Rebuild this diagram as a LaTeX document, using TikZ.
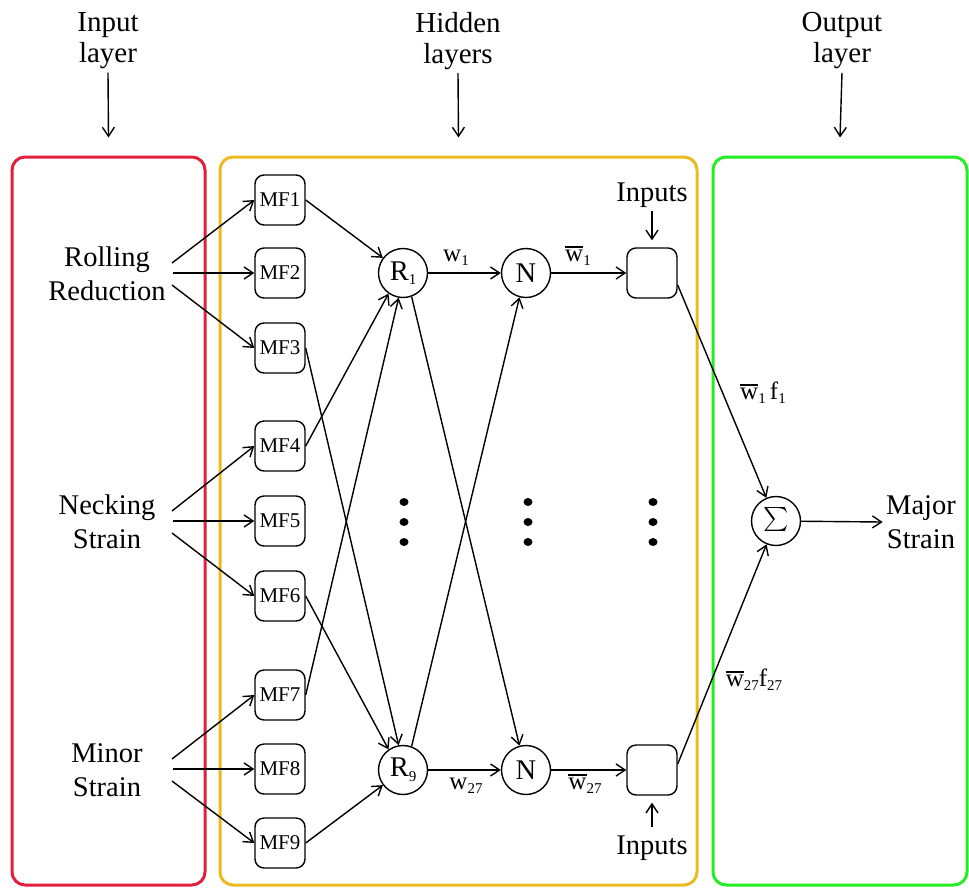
\documentclass[tikz,border=0pt]{standalone}
\usepackage{fontspec}
\setmainfont{Liberation Serif}
\usetikzlibrary{arrows.meta,calc}
\definecolor{cred}{HTML}{E0203C}
\definecolor{cyel}{HTML}{EBBA1E}
\definecolor{cgrn}{HTML}{22EE22}
\newcommand\sbs[1]{\raisebox{-0.35ex}{\fontsize{15}{15}\selectfont #1}}
\newcommand\wbar{\leavevmode\vbox{\hrule height 1.5pt\kern 2.5pt\hbox{w}}}
\begin{document}
\begin{tikzpicture}[x=1pt,y=-1pt,
  every node/.style={font=\fontsize{28.5}{34}\selectfont},
  layerbox/.style={draw, line width=3pt, rounded corners=13pt, inner sep=0pt},
  mfbox/.style={draw, line width=1.4pt, rounded corners=9pt, minimum width=50pt, minimum height=50pt, inner sep=0pt, font=\fontsize{21}{21}\selectfont},
  unit/.style={draw, circle, line width=1.4pt, minimum size=49pt, inner sep=0pt},
  arr/.style={line width=1.4pt, -{Straight Barb[length=9pt,width=12pt,line width=1.4pt]}},
  plain/.style={line width=1.4pt},
  lbl/.style={font=\fontsize{25}{25}\selectfont, inner sep=0pt},
  hdr/.style={align=center, font=\fontsize{29}{31}\selectfont}]
\useasboundingbox (0,0) rectangle (969,887);

% layer boxes
\node[layerbox, draw=cred, minimum width=193pt, minimum height=728pt] (inbox) at (108.5,521) {};
\node[layerbox, draw=cyel, minimum width=477pt, minimum height=728pt] (hidbox) at (458.5,521) {};
\node[layerbox, draw=cgrn, minimum width=254pt, minimum height=728pt] (outbox) at (840,521) {};

% headers
\node[hdr] (hin) at (108,41) {Input\\layer};
\node[hdr] (hhid) at (458,41) {Hidden\\layers};
\node[hdr] (hout) at (842,41) {Output\\layer};
\draw[arr] (hin.south) -- ([yshift=18pt]inbox.north);
\draw[arr] (hhid.south) -- ([yshift=18pt]hidbox.north);
\draw[arr] (hout.south) -- ([yshift=18pt]outbox.north);

% inputs
\node[align=center] (rr) at (107,274) {Rolling\\Reduction};
\node[align=center] (ns) at (107,522) {Necking\\Strain};
\node[align=center] (mi) at (107,770) {Minor\\Strain};
\coordinate (rrA) at (172,263); \coordinate (rrB) at (173,273); \coordinate (rrC) at (172,285);
\coordinate (nsA) at (172,511); \coordinate (nsB) at (173,521); \coordinate (nsC) at (172,533);
\coordinate (miA) at (172,759); \coordinate (miB) at (173,769); \coordinate (miC) at (172,781);

% MF boxes
\node[mfbox] (mf1) at (280,200) {MF1};
\node[mfbox] (mf2) at (280,273) {MF2};
\node[mfbox] (mf3) at (280,348) {MF3};
\node[mfbox] (mf4) at (280,446) {MF4};
\node[mfbox] (mf5) at (280,521) {MF5};
\node[mfbox] (mf6) at (280,596) {MF6};
\node[mfbox] (mf7) at (280,695) {MF7};
\node[mfbox] (mf8) at (280,769) {MF8};
\node[mfbox] (mf9) at (280,843) {MF9};

\draw[arr] (rrA) -- (mf1.west);
\draw[arr] (rrB) -- (mf2.west);
\draw[arr] (rrC) -- (mf3.west);
\draw[arr] (nsA) -- (mf4.west);
\draw[arr] (nsB) -- (mf5.west);
\draw[arr] (nsC) -- (mf6.west);
\draw[arr] (miA) -- (mf7.west);
\draw[arr] (miB) -- (mf8.west);
\draw[arr] (miC) -- (mf9.west);

% rule and normalisation units
\node[unit] (r1) at (403,273) {R\sbs{1}};
\node[unit] (n1) at (526,273) {N};
\node[mfbox] (b1) at (652,273) {};
\node[unit] (r9) at (403,770) {R\sbs{9}};
\node[unit] (n2) at (526,770) {N};
\node[mfbox] (b2) at (652,770) {};
\node[unit] (sig) at (776,521) {\scalebox{2.4}{$\textstyle\sum$}};
\node[align=center] (ms) at (921,522) {Major\\Strain};

% MF -> rules
\draw[arr] (mf1.east) -- (r1);
\draw[arr] (mf4.east) -- (r1.235);
\draw[arr] (mf7.east) -- (r1.260);
\draw[arr] (mf3.east) -- (r9.100);
\draw[arr] (mf6.east) -- (r9.125);
\draw[arr] (mf9.east) -- (r9);

% rules -> N
\draw[arr] (r1) -- (n1);
\draw[arr] (r9) -- (n2);
\draw[arr] (r1.290) -- (n2.105);
\draw[arr] (r9.70) -- (n1.255);
\draw[arr] (n1) -- (b1);
\draw[arr] (n2) -- (b2);

% Inputs to consequent boxes
\node (inp1) at (652,195) {Inputs};
\node (inp2) at (652,848) {Inputs};
\draw[arr, shorten >=7pt] (inp1.south) -- (b1.north);
\draw[arr, shorten >=7pt, shorten <=5pt] (inp2.north) -- (b2.south);

% to sum
\draw[arr] ([yshift=-12pt]b1.east) -- (sig);
\draw[arr] ([yshift=6pt]b2.east) -- (sig);
\draw[arr] (sig) -- (ms.west);

% labels
\node[lbl] (lw1) at (456,258) {w\sbs{1}};
\node[lbl] (lwb1) at (578,256) {\wbar\sbs{1}};
\node[lbl] (lw27) at (466,786) {w\sbs{27}};
\node[lbl] (lwb27) at (585,784) {\wbar\sbs{27}};
\node[lbl] (lf1) at (763,393) {\wbar\sbs{1}\,f\sbs{1}};
\node[lbl] (lf27) at (754,680) {\wbar\sbs{27}f\sbs{27}};

% dots
\foreach \dx in {404,528,653}{
  \foreach \dy in {502,522,542}{
    \fill (\dx,\dy) ellipse [x radius=4.5, y radius=4];
  }
}
\end{tikzpicture}
\end{document}
